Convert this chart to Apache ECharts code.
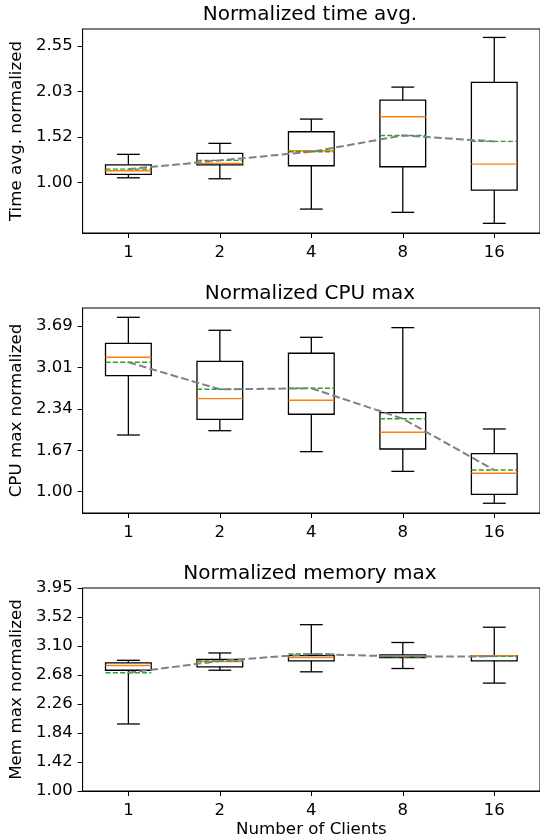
<!DOCTYPE html>
<html>
<head>
<meta charset="utf-8">
<script src="https://cdn.jsdelivr.net/npm/echarts@6/dist/echarts.min.js"></script>
<style>
html,body{margin:0;padding:0;background:#fff;}
#chart{width:540px;height:839px;}
</style>
</head>
<body>
<div id="chart"></div>
<script>
// ---------- data ----------
const categories = ['1', '2', '4', '8', '16'];

// each box: [lower whisker, Q1, median, Q3, upper whisker]
const timeBoxes = [
  [1.052, 1.091, 1.132, 1.200, 1.319],
  [1.041, 1.200, 1.216, 1.330, 1.444],
  [0.696, 1.189, 1.360, 1.576, 1.720],
  [0.659, 1.178, 1.747, 1.936, 2.084],
  [0.534, 0.912, 1.208, 2.137, 2.649]
];
const timeMeans = [1.151, 1.250, 1.348, 1.534, 1.466];

const cpuBoxes = [
  [1.920, 2.883, 3.182, 3.409, 3.831],
  [1.990, 2.175, 2.510, 3.117, 3.620],
  [1.650, 2.257, 2.484, 3.247, 3.506],
  [1.330, 1.693, 1.964, 2.283, 3.663],
  [0.812, 0.956, 1.299, 1.617, 2.018]
];
const cpuMeans = [3.101, 2.662, 2.679, 2.185, 1.351];

const memBoxes = [
  [1.974, 2.755, 2.823, 2.862, 2.899],
  [2.755, 2.804, 2.881, 2.914, 3.006],
  [2.732, 2.891, 2.938, 2.967, 3.417],
  [2.780, 2.938, 2.957, 2.977, 3.158],
  [2.568, 2.891, 2.967, 2.967, 3.380]
];
const memMeans = [2.718, 2.890, 2.991, 2.953, 2.957];

// tick values and their labels
const timeTicks = [1.00, 1.5167, 2.0333, 2.55];
const timeTickLabels = ['1.00', '1.52', '2.03', '2.55'];
const cpuTicks = [1.00, 1.6725, 2.345, 3.0175, 3.69];
const cpuTickLabels = ['1.00', '1.67', '2.34', '3.01', '3.69'];
const memTicks = [1.00, 1.4214, 1.8429, 2.2643, 2.6857, 3.1071, 3.5286, 3.95];
const memTickLabels = ['1.00', '1.42', '1.84', '2.26', '2.68', '3.10', '3.52', '3.95'];

const titles = ['Normalized time avg.', 'Normalized CPU max', 'Normalized memory max'];
const yNames = ['Time avg. normalized', 'CPU max normalized', 'Mem max normalized'];
const xName = 'Number of Clients';

// ---------- chart ----------
const FONT = 'DejaVu Sans';
const chart = echarts.init(document.getElementById('chart'), null, {renderer: 'canvas'});

const panels = [
  {boxes: timeBoxes, means: timeMeans, ticks: timeTicks, labels: timeTickLabels, min: 0.424, max: 2.745, top: 29, height: 204},
  {boxes: cpuBoxes, means: cpuMeans, ticks: cpuTicks, labels: cpuTickLabels, min: 0.654, max: 3.982, top: 308, height: 205},
  {boxes: memBoxes, means: memMeans, ticks: memTicks, labels: memTickLabels, min: 1.00, max: 3.95, top: 588, height: 205}
];

function labelFor(ticks, labels) {
  return function (v) {
    let best = 0, d = Infinity;
    for (let i = 0; i < ticks.length; i++) {
      const dd = Math.abs(ticks[i] - v);
      if (dd < d) { d = dd; best = i; }
    }
    return labels[best];
  };
}

function renderBox(params, api) {
  const i = api.value(0);
  const pLo = api.coord([i, api.value(1)]);
  const pQ1 = api.coord([i, api.value(2)]);
  const pMed = api.coord([i, api.value(3)]);
  const pQ3 = api.coord([i, api.value(4)]);
  const pHi = api.coord([i, api.value(5)]);
  const pMean = api.coord([i, api.value(6)]);
  const band = api.size([1, 0])[0];
  const hw = band * 0.25, cw = band * 0.125;
  const cx = pQ1[0];
  const k = {stroke: '#000', lineWidth: 1.3, fill: null};
  return {
    type: 'group',
    children: [
      {type: 'line', shape: {x1: cx, y1: pQ1[1], x2: cx, y2: pLo[1]}, style: k},
      {type: 'line', shape: {x1: cx, y1: pQ3[1], x2: cx, y2: pHi[1]}, style: k},
      {type: 'line', shape: {x1: cx - cw, y1: pLo[1], x2: cx + cw, y2: pLo[1]}, style: k},
      {type: 'line', shape: {x1: cx - cw, y1: pHi[1], x2: cx + cw, y2: pHi[1]}, style: k},
      {type: 'rect', shape: {x: cx - hw, y: pQ3[1], width: 2 * hw, height: pQ1[1] - pQ3[1]},
        style: {stroke: '#000', lineWidth: 1.3, fill: 'rgba(0,0,0,0)'}},
      {type: 'line', shape: {x1: cx - hw, y1: pMed[1], x2: cx + hw, y2: pMed[1]},
        style: {stroke: '#ff7f0e', lineWidth: 1.4}},
      {type: 'line', shape: {x1: cx - hw, y1: pMean[1], x2: cx + hw, y2: pMean[1]},
        style: {stroke: '#2ca02c', lineWidth: 1.4, lineDash: [5.1, 2.2]}}
    ]
  };
}

const option = {
  animation: false,
  backgroundColor: '#fff',
  title: panels.map((p, idx) => ({
    text: titles[idx],
    left: 310,
    top: p.top - 24,
    textAlign: 'center',
    padding: 0,
    textStyle: {fontFamily: FONT, fontSize: 20, fontWeight: 'normal', color: '#000'}
  })),
  grid: panels.map(p => ({
    left: 79, width: 463, top: p.top, height: p.height,
    show: true, borderColor: '#000', borderWidth: 1, backgroundColor: 'rgba(0,0,0,0)',
    containLabel: false
  })),
  xAxis: panels.map((p, idx) => ({
    type: 'category',
    gridIndex: idx,
    data: categories,
    boundaryGap: true,
    axisLine: {show: true, lineStyle: {color: '#000', width: 1}},
    axisTick: {show: true, alignWithLabel: true, length: 5, lineStyle: {color: '#000', width: 1}},
    axisLabel: {show: true, interval: 0, margin: 11, color: '#000', fontFamily: FONT, fontSize: 16.5},
    splitLine: {show: false},
    name: idx === 2 ? xName : '',
    nameLocation: 'middle',
    nameGap: 30,
    nameTextStyle: {fontFamily: FONT, fontSize: 16.7, color: '#000'}
  })),
  yAxis: panels.map((p, idx) => ({
    type: 'value',
    gridIndex: idx,
    min: p.min,
    max: p.max,
    axisLine: {show: true, lineStyle: {color: '#000', width: 1}},
    axisTick: {show: true, length: 5, customValues: p.ticks, lineStyle: {color: '#000', width: 1}},
    axisLabel: {show: true, customValues: p.ticks, formatter: labelFor(p.ticks, p.labels),
      margin: 10, color: '#000', fontFamily: FONT, fontSize: 16.5},
    splitLine: {show: false},
    name: yNames[idx],
    nameLocation: 'middle',
    nameGap: 52,
    nameTextStyle: {fontFamily: FONT, fontSize: 16.7, color: '#000'}
  })),
  series: panels.flatMap((p, idx) => [
    {
      type: 'custom',
      xAxisIndex: idx,
      yAxisIndex: idx,
      renderItem: renderBox,
      encode: {x: 0, y: [1, 2, 3, 4, 5, 6]},
      data: p.boxes.map((b, i) => [i, b[0], b[1], b[2], b[3], b[4], p.means[i]]),
      z: 2,
      silent: true
    },
    {
      type: 'line',
      xAxisIndex: idx,
      yAxisIndex: idx,
      data: p.means,
      symbol: 'none',
      lineStyle: {color: '#808080', width: 2, type: [7.7, 3.3]},
      z: 3,
      silent: true
    }
  ])
};

chart.setOption(option);
</script>
</body>
</html>
